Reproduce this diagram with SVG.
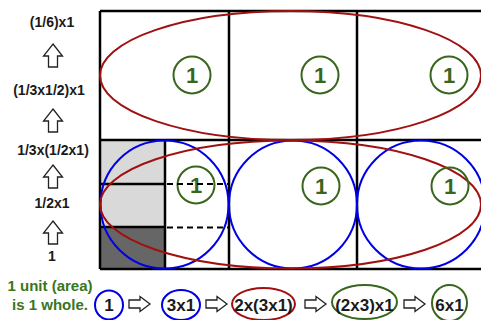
<svg xmlns="http://www.w3.org/2000/svg" width="481" height="320" viewBox="0 0 481 320">
<defs>
<style>
.lbl{font-family:"Liberation Sans",Arial,sans-serif;font-weight:bold;font-size:14px;fill:#1a1a1a;text-anchor:middle}
.grn{font-family:"Liberation Sans",Arial,sans-serif;font-weight:bold;font-size:15px;fill:#38761d;text-anchor:middle}
.seq{font-family:"Liberation Sans",Arial,sans-serif;font-weight:bold;font-size:17px;fill:#1a1a1a;text-anchor:middle}
.one{font-family:"Liberation Sans",Arial,sans-serif;font-weight:bold;font-size:22px;fill:#38661d;text-anchor:middle}
.grid{stroke:#000;stroke-width:2.5;fill:none}
.dash{stroke:#000;stroke-width:2;stroke-dasharray:6,4;fill:none}
.blue{stroke:#0000e6;stroke-width:2;fill:none}
.red{stroke:#a01010;stroke-width:2;fill:none}
.green{stroke:#38661d;stroke-width:2;fill:none}
.arr{stroke:#222;stroke-width:1.3;fill:#fff;stroke-linejoin:miter}
</style>
<path id="up" d="M0,0 L9.5,12 L4.5,12 L4.5,23 L-4.5,23 L-4.5,12 L-9.5,12 Z"/>
<path id="rt" d="M0,-4 L11,-4 L11,-7.5 L21,0 L11,7.5 L11,4 L0,4 Z"/>
</defs>
<rect width="481" height="320" fill="#fff"/>

<g id="grid">
<rect x="100" y="140" width="65" height="87" fill="#d9d9d9"/>
<rect x="100" y="227" width="65" height="42" fill="#666"/>
<path class="grid" d="M100,11 H481 M100,140 H481 M100,269 H481 M100,11 V269 M229,11 V269 M357,11 V269 M165,140 V269 M100,184 H165 M100,227 H165"/>
</g>

<g id="blue-circles">
<circle class="blue" cx="164.5" cy="204.5" r="64"/>
<circle class="blue" cx="293" cy="204.5" r="64"/>
<circle class="blue" cx="421" cy="204.5" r="64"/>
</g>

<g id="red-ellipses">
<ellipse class="red" cx="290.5" cy="75.5" rx="190.5" ry="64.5"/>
<ellipse class="red" cx="290.5" cy="204.5" rx="190.5" ry="64"/>
</g>

<g id="units">
<circle class="green" cx="192" cy="75" r="18.5"/>
<text class="one" x="192" y="83">1</text>
<circle class="green" cx="320" cy="75" r="18.5"/>
<text class="one" x="320" y="83">1</text>
<circle class="green" cx="449" cy="75" r="18.5"/>
<text class="one" x="449" y="83">1</text>
<circle class="green" cx="196" cy="185" r="18.5"/>
<text class="one" x="196" y="193">1</text>
<circle class="green" cx="321" cy="186" r="18.5"/>
<text class="one" x="321" y="194">1</text>
<circle class="green" cx="450" cy="186" r="18.5"/>
<text class="one" x="450" y="194">1</text>
</g>

<g id="connectors">
<path class="dash" d="M167,184 H229 M167,227.5 H229"/>
<use href="#up" class="arr" x="53" y="44"/>
<use href="#up" class="arr" x="53" y="109"/>
<use href="#up" class="arr" x="53" y="165"/>
<use href="#up" class="arr" x="53" y="221"/>
<use href="#rt" class="arr" x="129" y="304"/>
<use href="#rt" class="arr" x="206" y="304"/>
<use href="#rt" class="arr" x="305" y="304"/>
<use href="#rt" class="arr" x="404" y="304"/>
</g>

<g id="labels">
<text class="lbl" x="52" y="27">(1/6)x1</text>
<text class="lbl" x="49" y="95">(1/3x1/2)x1</text>
<text class="lbl" x="53" y="155">1/3x(1/2x1)</text>
<text class="lbl" x="52" y="208">1/2x1</text>
<text class="lbl" x="52" y="261">1</text>
<text class="grn" x="50" y="291">1 unit (area)</text>
<text class="grn" x="50" y="310">is 1 whole.</text>
</g>

<g id="seq-1"><ellipse class="blue" cx="109" cy="305" rx="14" ry="14.5"/><text class="seq" x="109" y="311">1</text></g>
<g id="seq-3x1"><ellipse class="blue" cx="181" cy="305" rx="19" ry="15"/><text class="seq" x="181" y="311">3x1</text></g>
<g id="seq-2x3x1"><ellipse class="red" cx="263.5" cy="304" rx="31.5" ry="16"/><text class="seq" x="263.5" y="311">2x(3x1)</text></g>
<g id="seq-2x3-x1"><ellipse class="green" cx="364.5" cy="302" rx="32.5" ry="17"/><text class="seq" x="364.5" y="311">(2x3)x1</text></g>
<g id="seq-6x1"><ellipse class="green" cx="449.5" cy="303" rx="17.5" ry="18"/><text class="seq" x="449.5" y="311">6x1</text></g>
</svg>
